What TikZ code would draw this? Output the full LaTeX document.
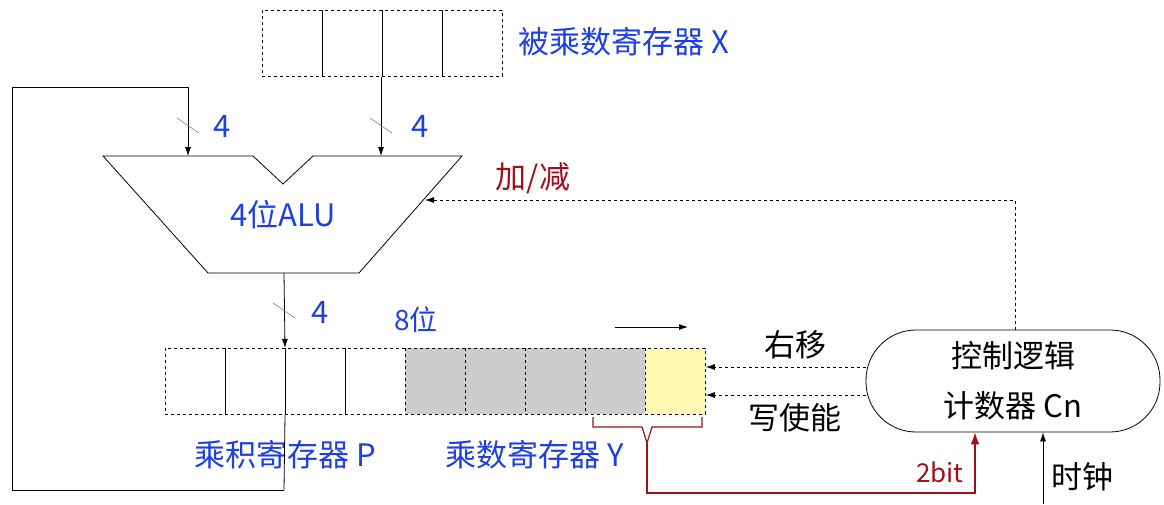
\documentclass[tikz,border=0pt]{standalone}
\usepackage{fontspec}
\setmainfont{Noto Sans CJK SC}
\usetikzlibrary{arrows.meta}
\definecolor{lblue}{HTML}{1F3FE0}
\definecolor{dred}{HTML}{A0101A}
\tikzset{
 cell/.style={draw,dashed,minimum width=60pt,minimum height=66pt,inner sep=0pt,anchor=north west},
 lab/.style={font=\fontsize{31}{34}\selectfont},
 blab/.style={lab,text=lblue},
 arr/.style={-{Latex[length=9pt,width=6pt]}},
 tick/.style={gray,line width=0.6pt},
}
\begin{document}
\begin{tikzpicture}[x=1pt,y=-1pt,line width=0.8pt]
\useasboundingbox (0,0) rectangle (1164,504);
% X register
\foreach \i in {0,...,3}{\node[cell] (x\i) at (262+60*\i,10) {};}
\node[blab,anchor=west] (xl) at (515,42) {被乘数寄存器 X};
% ALU
\draw[fill=white] (103,156) -- (253,156) -- (283,184) -- (313,156) -- (462,156) -- (359,273) -- (208,273) -- cycle;
\node[blab] (alu) at (283,215) {4位ALU};
\coordinate (alut1) at (188,156);
\coordinate (alut2) at (381,156);
\coordinate (alub) at (284,273);
\coordinate (alur) at (425,200);
% P/Y register
\foreach \i in {0,...,3}{\node[cell] (p\i) at (165+60*\i,348) {};}
\foreach \i in {4,...,7}{\node[cell,fill=gray!40] (p\i) at (165+60*\i,348) {};}
\node[cell,fill=yellow!30] (p8) at (645,348) {};
\node[blab] (pl) at (285,455) {乘积寄存器 P};
\node[blab] (yl) at (535,455) {乘数寄存器 Y};
\node[blab,font=\fontsize{28}{30}\selectfont] (b8) at (416,320) {8位};
% arrows
\draw[arr] (x2.south -| alut2) -- (alut2);
\draw[tick] (370,118) -- (392,133);
\node[blab] at (420,126) {4};
\coordinate (lp1) at (188,87);
\coordinate (lp2) at (12,87);
\coordinate (lp3) at (12,490);
\coordinate (lp4) at (284,490);
\draw[arr] (lp4) -- (lp3) -- (lp2) -- (lp1) -- (alut1);
\draw (lp4) -- (p2.south west);
\draw[tick] (177,118) -- (199,133);
\node[blab] at (222,126) {4};
\draw[arr] (alub) -- (p2.north west);
\draw[tick] (273,303) -- (295,318);
\node[blab] at (320,312) {4};
% control
\node[draw,rounded corners=50pt,minimum width=294pt,minimum height=102pt,align=center,font=\fontsize{31}{50}\selectfont] (ctl) at (1013,381) {控制逻辑\\计数器 Cn};
\coordinate (c1) at (1015,200);
\draw[arr,dashed] (ctl.north -| c1) -- (c1) -- (alur);
\node[lab,text=dred] at (533,178) {加/减};
\draw[arr,dashed] (ctl.west |- 0,367) -- (p8.east |- 0,367);
\draw[arr,dashed] (ctl.west |- 0,395) -- (p8.east |- 0,395);
\node[lab] at (795,345) {右移};
\node[lab] at (795,418) {写使能};
\coordinate (sa) at (615,327);
\coordinate (sb) at (688,327);
\draw[arr] (sa) -- (sb);
% brace
\draw[dred,line width=1.2pt] (593,417) -- (593,427) -- (642,427) -- (647,443) -- (652,427) -- (702,427) -- (702,417);
\coordinate (r1) at (647,443);
\coordinate (r2) at (647,493);
\coordinate (r3) at (975,493);
\draw[dred,line width=1.5pt,-{Latex[length=12pt,width=9pt]}] (r1) -- (r2) -- (r3) -- (ctl.south -| r3);
\node[lab,text=dred,font=\fontsize{26}{28}\selectfont] at (940,472) {2bit};
\coordinate (clk) at (1043,504);
\draw[arr] (clk) -- (ctl.south -| clk);
\node[lab] at (1082,477) {时钟};
\end{tikzpicture}
\end{document}
